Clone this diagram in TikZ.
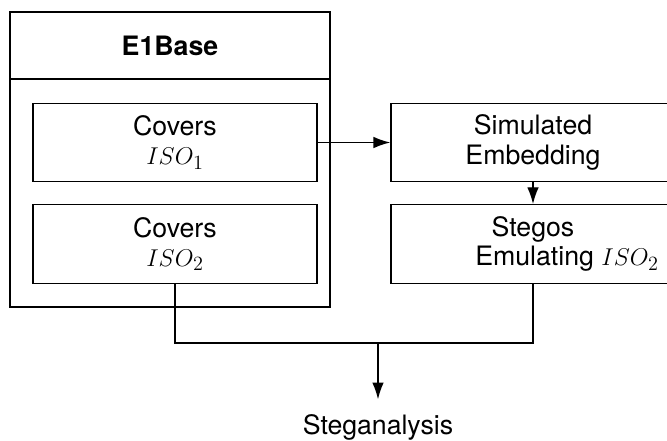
\documentclass[tikz,border=0pt]{standalone}
\usepackage{amsmath}
\usepackage{fontspec}
\setmainfont{TeX Gyre Heros}
\usetikzlibrary{positioning, arrows.meta, calc}

\begin{document}
\begin{tikzpicture}[x=0.025cm, y=-0.025cm, >={Latex[length=0.42cm, width=0.29cm]},
    line width=1pt, font=\fontsize{19}{20.8}\selectfont,
    box/.style={draw, minimum width=7.1cm, minimum height=1.96cm, align=center, inner sep=0pt}]

    % Rozměry obrázku
    \useasboundingbox (0,0) rectangle (667,441);
    \clip (0,0) rectangle (667,441);

    % 1. Rámeček E1Base s hlavičkou
    \draw (10,12) rectangle (330,307);
    \draw (10,79) -- (330,79);
    \node[font=\fontsize{19}{20.8}\selectfont\bfseries] (base) at (170,46) {E1Base};

    % 2. Krycí obrázky
    \foreach \y/\i in {142.5/1, 244/2} {
        \node[box] (cov\i) at (175,\y) {Covers\\$ISO_\i$};
    }

    % 3. Vkládání a stega obrázky
    \node[box] (sim)  at (533,142.5) {Simulated\\Embedding};
    \node[box] (steg) at (533,244) {Stegos\\\hspace*{1.7cm}Emulating $ISO_2$};

    % 4. Steganalýza
    \coordinate (join) at (378,343);
    \node[anchor=base, inner ysep=0.35cm] (stega) at (378,434) {Steganalysis};

    % 5. Šipky
    \draw[->] (cov1.east) -- (sim.west);
    \draw[->] (sim.south) -- (steg.north);
    \draw (cov2.south) |- (join);
    \draw (steg.south) |- (join);
    \draw[->] (join) -- (stega.north);

\end{tikzpicture}
\end{document}
